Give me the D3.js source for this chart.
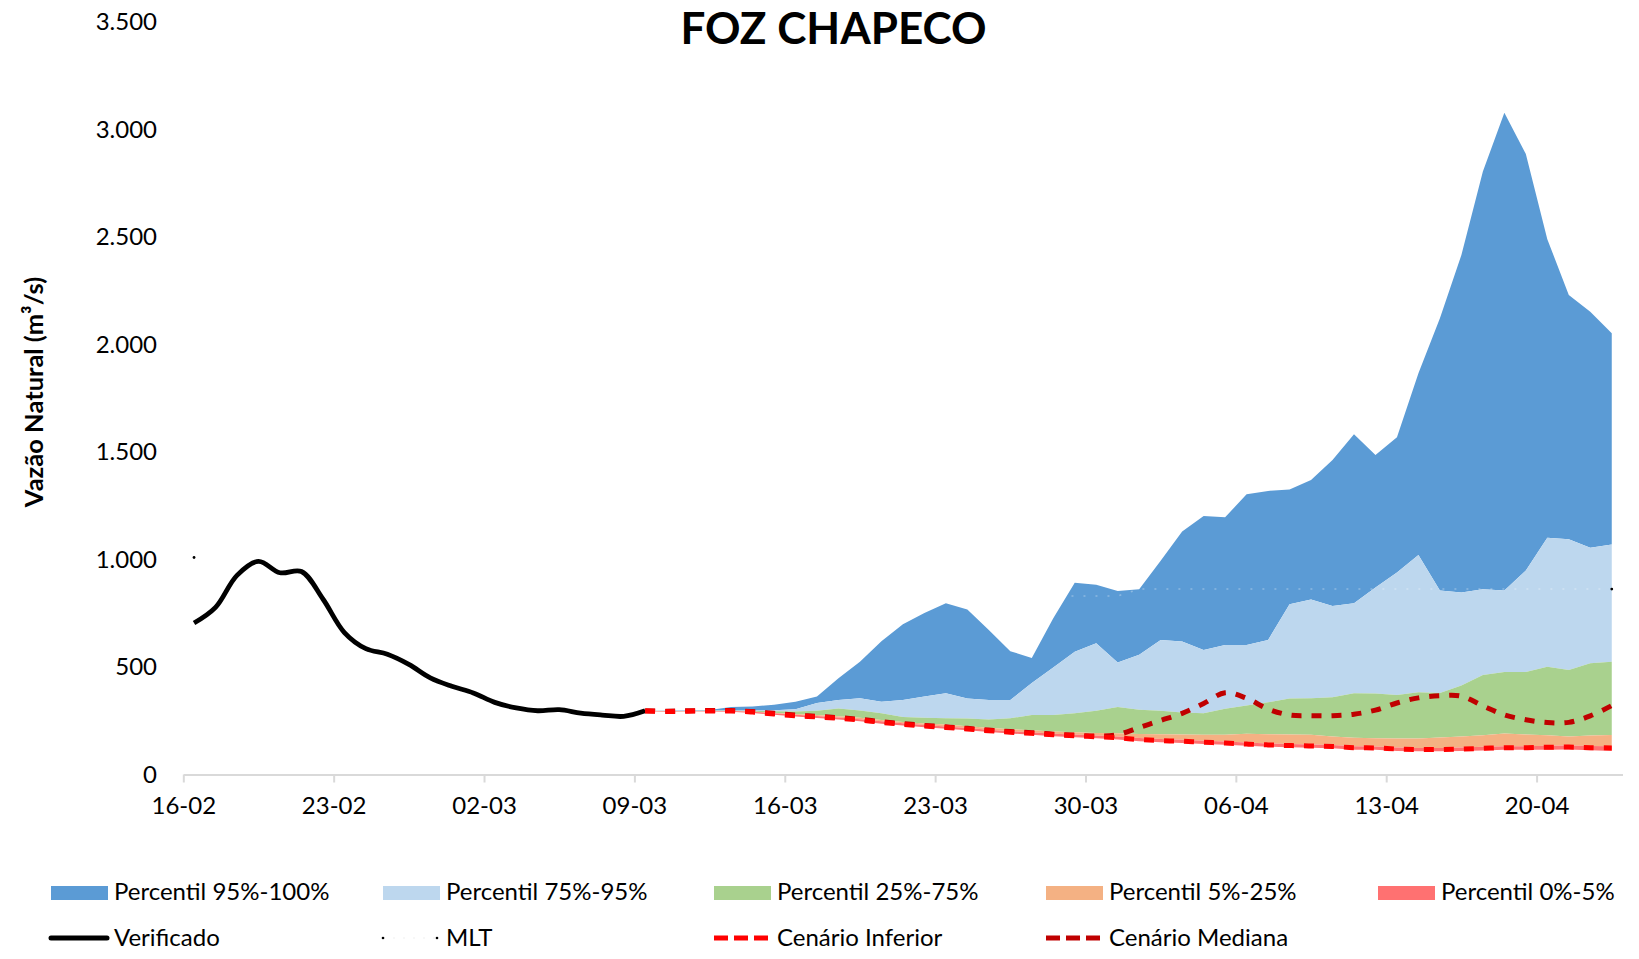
<!DOCTYPE html>
<html><head><meta charset="utf-8">
<script src="https://cdn.jsdelivr.net/npm/d3@7"></script>
<style>
body{margin:0;background:#fff}
svg{display:block}
text{font-family:Lato,"Noto Sans",sans-serif;fill:#000}
</style>
</head><body>
<svg id="chart" width="1639" height="959"></svg>
<script>
// ---------------- DATA ----------------
const titleText = "FOZ CHAPECO";
const yAxisTitle = "Vazão Natural (m³/s)";
const startDate = "2025-02-16";
const endDate = "2025-04-23";
const forecastStartDate = "2025-03-09";
const yTicks = [0, 500, 1000, 1500, 2000, 2500, 3000, 3500];

// observed flow 16-02 .. 09-03
const verificado = [700, 773, 922, 987, 934, 940, 812, 656, 581, 555, 508, 445, 406, 375, 331, 305, 292, 297, 281, 272, 266, 292];

// forecast 09-03 .. 23-04 (percentile boundaries)
const p0   = [290,286,288,288,287,282,273,265,258,251, 243,232,223,215,208,201,193,186,180,173, 169,164,158,150,145,142,137,134,129,125, 122,120,117,111,110,105,103,103,105,107, 110,110,111,112,108,105];
const p5   = [291,289,290,291,291,287,280,273,267,261, 253,243,234,226,219,212,204,197,192,185, 181,177,172,165,160,157,152,149,144,140, 137,135,133,127,126,121,119,119,121,124, 127,127,129,130,128,127];
const p25  = [292,290,290,291,291,288,283,277,272,266, 259,249,240,233,228,220,213,206,201,195, 192,189,187,184,183,181,180,180,185,183, 182,180,172,166,164,163,163,168,172,178, 186,181,178,172,177,179];
const p75  = [292,291,291,292,292,291,290,289,292,303, 293,280,263,259,257,256,251,257,272,272, 280,292,310,297,292,284,280,301,316,331, 349,350,355,373,372,365,378,375,410,458, 472,472,497,482,513,520];
const p95  = [292,292,292,293,293,293,294,299,328,342, 350,334,342,358,373,349,342,342,421,493, 567,606,516,553,621,614,575,598,598,621, 787,810,779,792,865,935,1017,851,842,857, 851,944,1097,1090,1051,1066];
const p100 = [292,293,294,296,309,312,320,334,358,443, 520,615,694,747,792,763,668,569,538,722, 887,878,849,857,990,1126,1198,1192,1299,1315, 1322,1366,1459,1578,1482,1564,1862,2118,2413,2801, 3075,2883,2486,2227,2149,2048];
const cenarioInferior = [291,288,290,291,291,286,277,269,263,257, 249,238,229,221,214,207,199,192,187,180, 176,171,166,158,153,150,145,142,137,133, 130,128,126,120,119,114,112,112,114,117, 120,120,122,123,120,119];
const cenarioMediana  = [292,290,292,293,293,288,280,272,266,260, 252,241,232,224,217,210,202,195,190,183, 179,174,181,214,247,280,326,376,350,300, 272,269,269,276,295,328,352,362,360,315, 273,250,237,238,268,316];

// long-term mean (MLT) per month
const mltMonths = ["2025-02", "2025-03", "2025-04"];
const mltValues = [1005, 826, 858];

const bandNames  = ["Percentil 95%-100%", "Percentil 75%-95%", "Percentil 25%-75%", "Percentil 5%-25%", "Percentil 0%-5%"];
const bandColors = ["#5b9bd5", "#bdd7ee", "#a9d18e", "#f4b183", "#ff7171"];
const lineNames  = ["Verificado", "MLT", "Cenário Inferior", "Cenário Mediana"];

// ---------------- SETUP ----------------
const svg = d3.select("#chart");
const parse = d3.timeParse("%Y-%m-%d");
const dates = d3.timeDay.range(parse(startDate), d3.timeDay.offset(parse(endDate), 1));
const fmtDay = d3.timeFormat("%d-%m");
const fmtMonth = d3.timeFormat("%Y-%m");
const fcStart = dates.findIndex(d => +d === +parse(forecastStartDate));

const x = d3.scaleBand().domain(d3.range(dates.length)).range([183.3, 1622.5]);
const xc = i => x(i) + x.bandwidth() / 2;
const y = d3.scaleLinear().domain([0, 3500]).range([773.5, 21.3]);

const loc = d3.formatLocale({decimal: ",", thousands: ".", grouping: [3], currency: ["", ""]});
const fmtY = loc.format(",d");

// ---------------- AREAS ----------------
const bounds = [p100, p95, p75, p25, p5, p0];
const fc = d3.range(p0.length).map(k => ({i: fcStart + k, k}));
bandColors.forEach((col, b) => {
  const upper = bounds[b], lower = bounds[b + 1];
  const area = d3.area().x(d => xc(d.i)).y0(d => y(lower[d.k])).y1(d => y(upper[d.k]));
  svg.append("path").datum(fc).attr("d", area).attr("fill", col);
});

// ---------------- AXES ----------------
const gy = svg.append("g").attr("transform", "translate(157,0)")
  .call(d3.axisLeft(y).tickValues(yTicks).tickFormat(fmtY).tickSize(0).tickPadding(0));
gy.select(".domain").remove();
gy.selectAll("text").attr("font-family", "Lato").attr("font-size", 24).attr("fill", "#000").attr("dy", "0.36em");

const tickIdx = d3.range(0, dates.length, 7);
const xTickScale = d3.scaleLinear().domain([0, dates.length]).range([183.3, 1622.5]);
const gx = svg.append("g").attr("transform", "translate(0,774.5)")
  .call(d3.axisBottom(xTickScale).tickValues(tickIdx).tickFormat(i => fmtDay(dates[i])).tickSize(8).tickSizeOuter(0).tickPadding(14));
gx.select(".domain").attr("stroke", "#d9d9d9").attr("stroke-width", 2);
gx.selectAll(".tick line").attr("stroke", "#d9d9d9").attr("stroke-width", 2);
gx.selectAll("text").attr("font-family", "Lato").attr("font-size", 24).attr("fill", "#000");

// ---------------- LINES ----------------
const smooth = d3.curveCatmullRom.alpha(0.5);
// MLT (almost invisible dotted line)
const mltDaily = dates.map((d, i) => ({i, v: mltValues[mltMonths.indexOf(fmtMonth(d))]}));
svg.append("path").datum(mltDaily)
  .attr("d", d3.line().x(d => xc(d.i)).y(d => y(d.v)))
  .attr("fill", "none").attr("stroke", "#ffffff").attr("stroke-opacity", 0.3)
  .attr("stroke-width", 1.5).attr("stroke-dasharray", "2,10");
[mltDaily[0], mltDaily[mltDaily.length - 1]].forEach(d =>
  svg.append("circle").attr("cx", xc(d.i)).attr("cy", y(d.v)).attr("r", 1.4).attr("fill", "#000"));

// Verificado
svg.append("path").datum(verificado.map((v, i) => ({i, v})))
  .attr("d", d3.line().curve(smooth).x(d => xc(d.i)).y(d => y(d.v)))
  .attr("fill", "none").attr("stroke", "#000").attr("stroke-width", 4.8).attr("stroke-linejoin", "round");

// Cenario Mediana
svg.append("path").datum(cenarioMediana.map((v, k) => ({i: fcStart + k, v})))
  .attr("d", d3.line().curve(smooth).x(d => xc(d.i)).y(d => y(d.v)))
  .attr("fill", "none").attr("stroke", "#c00000").attr("stroke-width", 5).attr("stroke-dasharray", "10,10");
// Cenario Inferior
svg.append("path").datum(cenarioInferior.map((v, k) => ({i: fcStart + k, v})))
  .attr("d", d3.line().curve(smooth).x(d => xc(d.i)).y(d => y(d.v)))
  .attr("fill", "none").attr("stroke", "#ff0000").attr("stroke-width", 5).attr("stroke-dasharray", "10,10");

// ---------------- TITLES ----------------
svg.append("text").attr("x", 833.5).attr("y", 44).attr("text-anchor", "middle")
  .attr("font-size", 44).attr("font-weight", "bold").text(titleText);
svg.append("text").attr("transform", "translate(43,392) rotate(-90)").attr("text-anchor", "middle")
  .attr("font-size", 25.5).attr("font-weight", "bold").text(yAxisTitle);

// ---------------- LEGEND ----------------
const colX = [51, 383, 714, 1046, 1378];
bandNames.forEach((name, k) => {
  svg.append("rect").attr("x", colX[k]).attr("y", 886).attr("width", 57).attr("height", 14).attr("fill", bandColors[k]);
  svg.append("text").attr("x", colX[k] + 63).attr("y", 899.5).attr("font-size", 24).text(name);
});
const ly = 938;
// Verificado
svg.append("line").attr("x1", colX[0]).attr("x2", colX[0] + 56).attr("y1", ly).attr("y2", ly)
  .attr("stroke", "#000").attr("stroke-width", 5).attr("stroke-linecap", "round");
// MLT
svg.append("line").attr("x1", colX[1]).attr("x2", colX[1] + 54).attr("y1", ly).attr("y2", ly)
  .attr("stroke", "#f7f7f7").attr("stroke-width", 2).attr("stroke-dasharray", "2,8");
[colX[1], colX[1] + 54].forEach(cx => svg.append("circle").attr("cx", cx).attr("cy", ly).attr("r", 1.3).attr("fill", "#000"));
// Cenario Inferior
svg.append("line").attr("x1", colX[2]).attr("x2", colX[2] + 54).attr("y1", ly).attr("y2", ly)
  .attr("stroke", "#ff0000").attr("stroke-width", 5).attr("stroke-dasharray", "14,6");
// Cenario Mediana
svg.append("line").attr("x1", colX[3]).attr("x2", colX[3] + 54).attr("y1", ly).attr("y2", ly)
  .attr("stroke", "#c00000").attr("stroke-width", 5).attr("stroke-dasharray", "14,6");
lineNames.forEach((name, k) => {
  svg.append("text").attr("x", colX[k] + 63).attr("y", 945.5).attr("font-size", 24).text(name);
});
</script>
</body></html>
